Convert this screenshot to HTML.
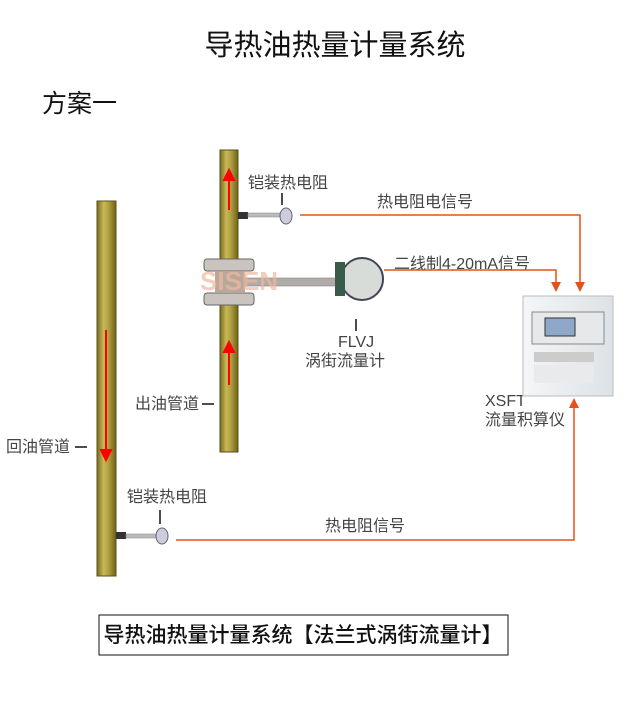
<!DOCTYPE html>
<html><head><meta charset="utf-8"><style>
body{margin:0;background:#fff;}
svg{display:block;font-family:"Liberation Sans","Noto Sans CJK SC",sans-serif;}
</style></head><body>
<svg width="640" height="702" viewBox="0 0 640 702">
<defs>
<linearGradient id="pipe" x1="0" x2="1" y1="0" y2="0">
<stop offset="0" stop-color="#7a6c1c"/><stop offset="0.35" stop-color="#c8b85a"/><stop offset="0.6" stop-color="#b0a040"/><stop offset="1" stop-color="#6e6218"/>
</linearGradient>
<linearGradient id="box" x1="0" x2="1"><stop offset="0" stop-color="#f4f6f8"/><stop offset="1" stop-color="#dde2e6"/></linearGradient>
</defs>
<text x="335" y="55" font-size="29" text-anchor="middle" fill="#111">导热油热量计量系统</text>
<text x="42" y="112" font-size="25" fill="#111">方案一</text>

<rect x="97" y="201" width="19" height="375" fill="url(#pipe)" stroke="#5a5014" stroke-width="1"/>
<rect x="220" y="150" width="18" height="302" fill="url(#pipe)" stroke="#5a5014" stroke-width="1"/>
<g stroke="#f00" stroke-width="2" fill="#f00">
<line x1="229" y1="210" x2="229" y2="178"/><polygon points="224,180 234,180 229,170"/>
<line x1="229" y1="385" x2="229" y2="350"/><polygon points="224,352 234,352 229,342"/>
<line x1="106" y1="330" x2="106" y2="452"/><polygon points="101,450 111,450 106,460"/>
</g>
<g font-size="16" fill="#444">
<text x="248" y="188">铠装热电阻</text>
<text x="377" y="207">热电阻电信号</text>
<text x="394" y="269">二线制4-20mA信号</text>
<text x="338" y="347">FLVJ</text>
<text x="305" y="366">涡街流量计</text>
<text x="135" y="409">出油管道</text>
<text x="6" y="452">回油管道</text>
<text x="127" y="502">铠装热电阻</text>
<text x="325" y="531">热电阻信号</text>
<text x="485" y="406">XSFT</text>
<text x="485" y="425">流量积算仪</text>
</g>
<g stroke="#111" stroke-width="1.5">
<line x1="282" y1="193" x2="282" y2="205"/>
<line x1="356" y1="319" x2="356" y2="331"/>
<line x1="202" y1="404" x2="214" y2="404"/>
<line x1="75" y1="447" x2="87" y2="447"/>
<line x1="160" y1="510" x2="160" y2="524"/>
</g>
<g>
<rect x="238" y="212" width="10" height="7" fill="#333"/>
<rect x="248" y="213" width="32" height="4" fill="#bbb" stroke="#888" stroke-width="0.5"/>
<ellipse cx="286" cy="216" rx="6" ry="8" fill="#ccd" stroke="#667"/>
<rect x="116" y="532" width="10" height="7" fill="#333"/>
<rect x="126" y="534" width="32" height="4" fill="#bbb" stroke="#888" stroke-width="0.5"/>
<ellipse cx="162" cy="536" rx="6" ry="8" fill="#ccd" stroke="#667"/>
</g>
<g>
<rect x="204" y="259" width="50" height="12" rx="3" fill="#c9c4c0" stroke="#666"/>
<rect x="204" y="293" width="50" height="12" rx="3" fill="#c9c4c0" stroke="#666"/>
<rect x="215" y="271" width="30" height="22" fill="#b8a89a"/>
<rect x="245" y="278" width="95" height="8" fill="#b0aca8" stroke="#777" stroke-width="0.5"/>
<circle cx="362" cy="279" r="21" fill="#d8dcd8" stroke="#445" stroke-width="2"/>
<rect x="335" y="262" width="10" height="34" fill="#3a5a4a"/>
<text x="200" y="290" font-size="26" font-weight="bold" fill="#f0b8a0" opacity="0.7">SISEN</text>
</g>
<g stroke="#e8501a" stroke-width="1.5" fill="none">
<polyline points="300,215 580,215 580,284"/>
<polyline points="384,270 556,270 556,284"/>
<polyline points="176,540 574,540 574,406"/>
</g>
<g fill="#e8501a">
<polygon points="551,282 561,282 556,292"/>
<polygon points="575,282 585,282 580,292"/>
<polygon points="569,408 579,408 574,398"/>
</g>
<rect x="523" y="296" width="90" height="100" fill="url(#box)" stroke="#bbb"/>
<rect x="532" y="312" width="72" height="32" fill="#e6e8ea" stroke="#888"/>
<rect x="545" y="318" width="30" height="18" fill="#8fa8c8" stroke="#333"/>
<rect x="534" y="352" width="60" height="10" fill="#ccc"/>
<rect x="534" y="365" width="60" height="18" fill="#e8eaec"/>
<rect x="99" y="615" width="409" height="40" fill="#fff" stroke="#111" stroke-width="1"/>
<text x="303" y="642" font-size="21" text-anchor="middle" fill="#111" font-weight="500">导热油热量计量系统【法兰式涡街流量计】</text>
</svg>
</body></html>
